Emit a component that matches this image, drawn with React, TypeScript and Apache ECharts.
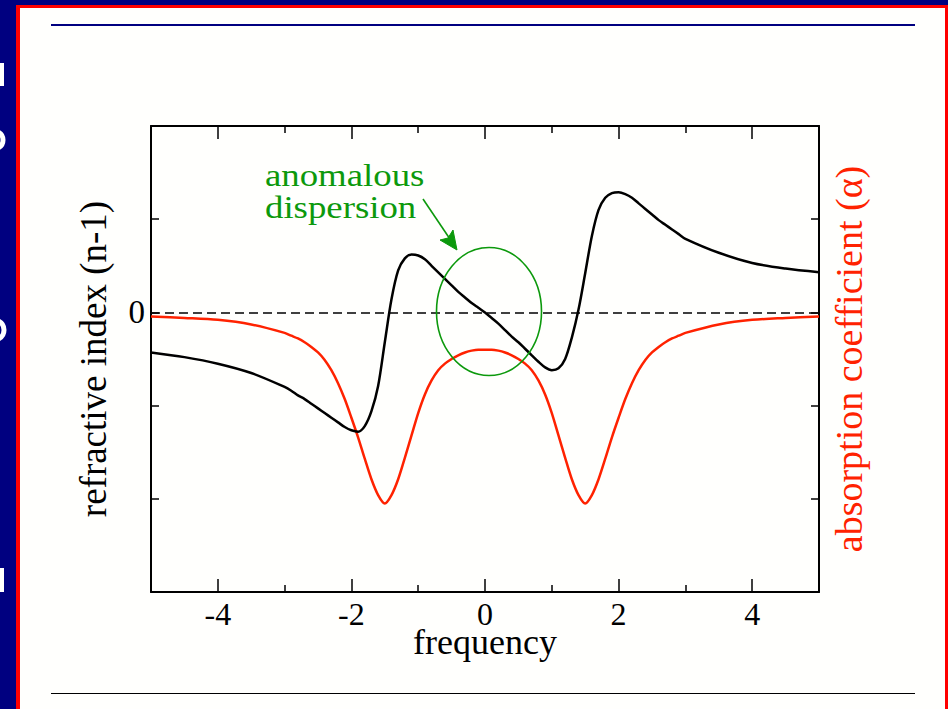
import React, { useEffect, useRef } from "react";
import * as echarts from "echarts";

// frequency samples (x)
const frequency = [
  -5, -4.5, -4, -3.5,
  -3, -2.9, -2.8, -2.7, -2.6, -2.5, -2.4, -2.3, -2.2, -2.1,
  -2, -1.9, -1.8, -1.7, -1.6, -1.5, -1.4, -1.3, -1.2, -1.1,
  -1, -0.9, -0.8, -0.7, -0.6, -0.5, -0.4, -0.3, -0.2, -0.1,
  0,
  0.1, 0.2, 0.3, 0.4, 0.5, 0.6, 0.7, 0.8, 0.9, 1,
  1.1, 1.2, 1.3, 1.4, 1.5, 1.6, 1.7, 1.8, 1.9, 2,
  2.1, 2.2, 2.3, 2.4, 2.5, 2.6, 2.7, 2.8, 2.9, 3,
  3.5, 4, 4.5, 5,
];
// refractive index (n-1), black curve
const refractiveIndex = [
  -0.43, -0.48, -0.55, -0.65,
  -0.8, -0.84, -0.89, -0.93, -0.98, -1.03, -1.08, -1.13, -1.18, -1.23,
  -1.265, -1.28, -1.22, -1.06, -0.79, -0.32, 0.14, 0.45, 0.58, 0.62,
  0.61, 0.57, 0.5, 0.43, 0.36, 0.29, 0.22, 0.16, 0.1, 0.05,
  0,
  -0.06, -0.12, -0.19, -0.26, -0.32, -0.39, -0.46, -0.53, -0.59, -0.62,
  -0.6, -0.5, -0.27, 0.03, 0.42, 0.82, 1.1, 1.23, 1.28, 1.29,
  1.27, 1.23, 1.17, 1.11, 1.05, 0.99, 0.94, 0.89, 0.84, 0.79,
  0.64, 0.53, 0.47, 0.43,
];
// absorption coefficient (drawn downward), red curve
const absorption = [
  -0.045, -0.06, -0.08, -0.13,
  -0.22, -0.25, -0.28, -0.32, -0.37, -0.43, -0.51, -0.62, -0.76, -0.93,
  -1.13, -1.34, -1.57, -1.79, -1.96, -2.05, -1.96, -1.79, -1.56, -1.32,
  -1.08, -0.88, -0.73, -0.62, -0.55, -0.5, -0.46, -0.43, -0.41, -0.4,
  -0.4,
  -0.4, -0.41, -0.43, -0.46, -0.5, -0.55, -0.62, -0.73, -0.88, -1.08,
  -1.32, -1.56, -1.79, -1.96, -2.05, -1.96, -1.79, -1.57, -1.34, -1.13,
  -0.93, -0.76, -0.62, -0.51, -0.43, -0.37, -0.32, -0.28, -0.25, -0.22,
  -0.13, -0.08, -0.06, -0.045,
];
const xMajorTicks = [-4, -2, 0, 2, 4];
const xMinorTicks = [-3, -1, 1, 3];
const yTickLabels = [0];

const SERIF = '"Liberation Serif", "Times New Roman", serif';
const RED = "#ff2200";
const GREEN = "#0c990c";

export default function App() {
  const ref = useRef<HTMLDivElement>(null);

  useEffect(() => {
    const chart = echarts.init(ref.current!, null, { renderer: "svg" });
    const blackData = frequency.map((f, i) => [f, refractiveIndex[i]]);
    const redData = frequency.map((f, i) => [f, absorption[i]]);

    const xBase = {
      type: "value",
      min: -5,
      max: 5,
      splitLine: { show: false },
    };
    const yBase = {
      type: "value",
      min: -3,
      max: 2,
      interval: 1,
      splitLine: { show: false },
      axisLine: { show: true, onZero: false, lineStyle: { color: "#000", width: 2 } },
      axisTick: { show: true, inside: true, length: 8, lineStyle: { color: "#000", width: 1.5 } },
    };

    chart.setOption({
      animation: false,
      backgroundColor: "transparent",
      grid: { left: 151, top: 126, width: 668, height: 466, containLabel: false },
      xAxis: [
        {
          ...xBase,
          position: "bottom",
          axisLine: { show: true, onZero: false, lineStyle: { color: "#000", width: 2 } },
          axisTick: { show: true, inside: true, length: 13, customValues: xMajorTicks, lineStyle: { color: "#000", width: 1.5 } },
          axisLabel: {
            show: true,
            customValues: xMajorTicks,
            color: "#000",
            fontFamily: SERIF,
            fontSize: 32,
            lineHeight: 26,
            margin: 9,
          },
          name: "frequency",
          nameLocation: "middle",
          nameGap: 39,
          nameMoveOverlap: false,
          nameTextStyle: { color: "#000", fontFamily: SERIF, fontSize: 36, lineHeight: 22 },
        },
        {
          ...xBase,
          position: "bottom",
          axisLine: { show: false, onZero: false },
          axisTick: { show: true, inside: true, length: 7, customValues: xMinorTicks, lineStyle: { color: "#000", width: 1.5 } },
          axisLabel: { show: false },
        },
        {
          ...xBase,
          position: "top",
          axisLine: { show: true, onZero: false, lineStyle: { color: "#000", width: 2 } },
          axisTick: { show: true, inside: true, length: 13, customValues: xMajorTicks, lineStyle: { color: "#000", width: 1.5 } },
          axisLabel: { show: false },
        },
        {
          ...xBase,
          position: "top",
          axisLine: { show: false, onZero: false },
          axisTick: { show: true, inside: true, length: 7, customValues: xMinorTicks, lineStyle: { color: "#000", width: 1.5 } },
          axisLabel: { show: false },
        },
      ],
      yAxis: [
        {
          ...yBase,
          position: "left",
          axisLabel: {
            show: true,
            customValues: yTickLabels,
            color: "#000",
            fontFamily: SERIF,
            fontSize: 33,
            margin: 6,
          },
          name: "refractive index (n-1)",
          nameLocation: "middle",
          nameGap: 39,
          nameMoveOverlap: false,
          nameTextStyle: { color: "#000", fontFamily: SERIF, fontSize: 37 },
        },
        {
          ...yBase,
          position: "right",
          axisLabel: { show: false },
          name: "absorption coefficient (α)",
          nameLocation: "middle",
          nameGap: 11,
          nameMoveOverlap: false,
          nameTextStyle: { color: RED, fontFamily: SERIF, fontSize: 38 },
        },
      ],
      series: [
        {
          type: "line",
          name: "refractive index",
          data: blackData,
          xAxisIndex: 0,
          yAxisIndex: 0,
          showSymbol: false,
          smooth: 0.3,
          lineStyle: { color: "#000", width: 2.5 },
          z: 3,
          markLine: {
            silent: true,
            symbol: ["none", "none"],
            label: { show: false },
            lineStyle: { color: "#000", type: [9, 5], width: 1.5 },
            data: [{ yAxis: 0 }],
          },
        },
        {
          type: "line",
          name: "absorption coefficient",
          data: redData,
          xAxisIndex: 0,
          yAxisIndex: 1,
          showSymbol: false,
          smooth: 0.3,
          lineStyle: { color: RED, width: 2.5 },
          z: 2,
        },
      ],
    });

    const c = chart.convertToPixel({ seriesIndex: 0 }, [0.06, 0.01]) as number[];
    const fontGreen = `32px ${SERIF}`;
    const frag = { fill: "none", stroke: "#fff", lineWidth: 5 };
    chart.setOption({
      graphic: [
        { type: "line", shape: { x1: 51, y1: 25, x2: 915, y2: 25 }, style: { stroke: "#000080", lineWidth: 2 }, z: 10 },
        { type: "line", shape: { x1: 51, y1: 693.5, x2: 915, y2: 693.5 }, style: { stroke: "#000", lineWidth: 1 }, z: 10 },
        // fragments of the white slide title that is cut off at the left edge
        { type: "rect", shape: { x: 0, y: 63, width: 4, height: 23 }, style: { fill: "#fff" } },
        { type: "arc", shape: { cx: -6, cy: 140, r: 9, startAngle: -1.1, endAngle: 1.1 }, style: frag },
        { type: "arc", shape: { cx: -6, cy: 330, r: 10, startAngle: -1.1, endAngle: 1.1 }, style: frag },
        { type: "rect", shape: { x: 0, y: 568, width: 4, height: 24 }, style: { fill: "#fff" } },
        {
          type: "ellipse",
          shape: { cx: c[0], cy: c[1], rx: 52.5, ry: 64 },
          style: { fill: "none", stroke: GREEN, lineWidth: 1.6 },
          z: 20,
        },
        {
          type: "line",
          shape: { x1: 423, y1: 199, x2: 454, y2: 245 },
          style: { stroke: GREEN, lineWidth: 1.6 },
          z: 20,
        },
        {
          type: "polygon",
          shape: { points: [[457, 250], [440, 240], [448, 238], [453, 230]] },
          style: { fill: GREEN, stroke: GREEN, lineWidth: 1 },
          z: 20,
        },
        {
          type: "text",
          x: 265,
          y: 191,
          scaleX: 1.15,
          style: {
            text: "anomalous\ndispersion",
            fill: GREEN,
            font: fontGreen,
            lineHeight: 32,
            align: "left",
            verticalAlign: "middle",
          },
          z: 20,
        },
      ],
    });

    return () => chart.dispose();
  }, []);

  return (
    <div style={{ position: "fixed", left: 0, top: 0, width: 948, height: 709, background: "#000080", overflow: "hidden" }}>
      <div style={{ position: "absolute", left: 16, top: 5, width: 940, height: 720, background: "#ff0000" }} />
      <div style={{ position: "absolute", left: 20, top: 8, width: 925, height: 720, background: "#fffffd" }} />
      <div ref={ref} style={{ position: "absolute", left: 0, top: 0, width: 948, height: 709 }} />
    </div>
  );
}
